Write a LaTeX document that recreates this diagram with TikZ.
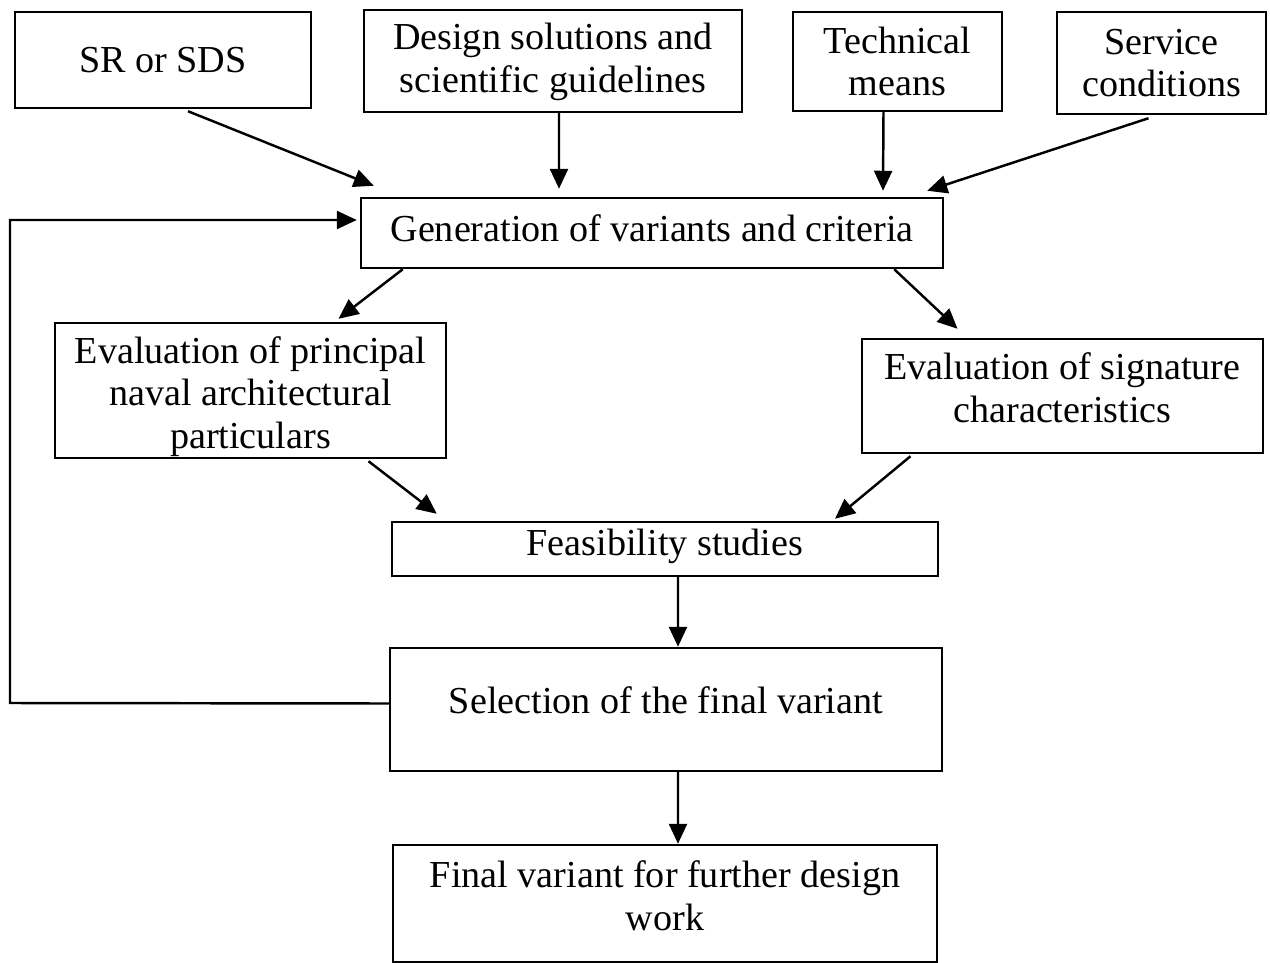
\documentclass[tikz,border=0pt]{standalone}
\usepackage{fontspec}
\setmainfont{Liberation Serif}
\usetikzlibrary{arrows.meta, positioning}

\begin{document}
\begin{tikzpicture}[line width=1.4pt,
    block/.style = {draw, rectangle, inner sep=0pt},
    txt/.style = {align=center, inner sep=0pt, font=\fontsize{21.7}{24.3}\selectfont},
    arr/.style = {-{Triangle[length=0.4cm, width=0.36cm]}}]
    \useasboundingbox (0,0) rectangle (25.4,-19.26);

    \node[block, minimum width=5.92cm, minimum height=1.92cm, label={[txt]center:SR or SDS}] (sr) at (3.26,-1.20) {};
    \node[block, minimum width=7.56cm, minimum height=2.04cm, label={[txt, yshift=-0.02cm]center:{Design solutions and\\ scientific guidelines}}] (des) at (11.06,-1.22) {};
    \node[block, minimum width=4.18cm, minimum height=1.98cm, label={[txt]center:{Technical\\ means}}] (tech) at (17.95,-1.23) {};
    \node[block, minimum width=4.18cm, minimum height=2.04cm, label={[txt]center:{Service\\ conditions}}] (serv) at (23.23,-1.26) {};

    \node[block, minimum width=11.64cm, minimum height=1.40cm, label={[txt, yshift=0.1cm]center:Generation of variants and criteria}] (gen) at (13.04,-4.66) {};

    \node[block, minimum width=7.82cm, minimum height=2.70cm, label={[txt, yshift=-0.12cm]center:{Evaluation of principal\\ naval architectural\\ particulars}}] (evp) at (5.01,-7.81) {};
    \node[block, minimum width=8.02cm, minimum height=2.28cm, label={[txt, yshift=0.16cm]center:{Evaluation of signature\\ characteristics}}] (evs) at (21.25,-7.92) {};

    \node[block, minimum width=10.92cm, minimum height=1.08cm, label={[txt, yshift=0.06cm]center:Feasibility studies}] (feas) at (13.30,-10.98) {};
    \node[block, minimum width=11.04cm, minimum height=2.46cm, label={[txt, yshift=0.18cm]center:Selection of the final variant}] (sel) at (13.32,-14.19) {};
    \node[block, minimum width=10.88cm, minimum height=2.34cm, label={[txt, yshift=0.16cm]center:{Final variant for further design\\ work}}] (fin) at (13.30,-18.07) {};

    % inputs
    \draw[arr] ([xshift=0.5cm,yshift=-0.04cm]sr.south) -- ([xshift=0.28cm,yshift=0.22cm]gen.north west);
    \draw[arr] ([xshift=0.12cm]des.south) -- ([xshift=-1.86cm,yshift=0.16cm]gen.north);
    \draw[arr] ([xshift=-0.28cm]tech.south) -- ([xshift=4.62cm,yshift=0.12cm]gen.north);
    \draw[arr] ([xshift=-0.26cm,yshift=-0.06cm]serv.south) -- ([xshift=-0.34cm,yshift=0.12cm]gen.north east);

    % evaluations
    \draw[arr] ([xshift=0.86cm]gen.south west) -- ([xshift=1.76cm,yshift=0.06cm]evp.north);
    \draw[arr] ([xshift=-1.0cm]gen.south east) -- ([xshift=-2.1cm,yshift=0.18cm]evs.north);
    \draw[arr] ([xshift=2.36cm,yshift=-0.04cm]evp.south) -- ([xshift=0.92cm,yshift=0.14cm]feas.north west);
    \draw[arr] ([xshift=-3.04cm,yshift=-0.04cm]evs.south) -- ([xshift=3.4cm,yshift=0.04cm]feas.north);

    \draw[arr] ([xshift=0.26cm]feas.south) -- ([xshift=0.24cm]sel.north);
    \draw[arr] ([xshift=0.24cm]sel.south) -- ([xshift=0.26cm]fin.north);

    % feedback loop
    \coordinate (fb) at (0.2,-14.06);
    \draw[arr] ([yshift=0.12cm]sel.west) -- (fb) |- ([xshift=-0.06cm,yshift=0.26cm]gen.west);
\end{tikzpicture}
\end{document}
